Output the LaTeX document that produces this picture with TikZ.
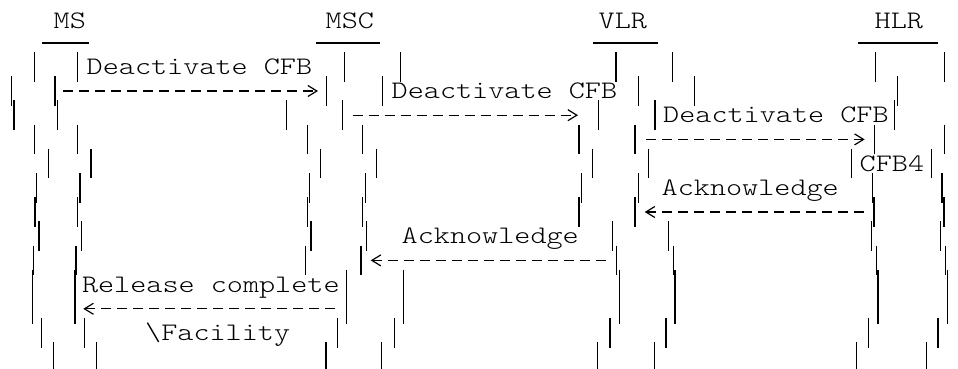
\documentclass[tikz,border=0pt]{standalone}
\usepackage{fontspec}
\newfontfamily\asciifont[FakeStretch=1.217]{lmmonolt10-regular.otf}
\usetikzlibrary{
  arrows.meta
}
\tikzset{
%
  % For the strokes of the lifelines.
  bar/.style={
    line width=1.5pt},
%
  % For the lids on top of the lifelines.
  lid/.style={
    line width=1.5pt},
%
  % For all texts.
  ascii/.style={
    font=\asciifont\fontsize{25.2}{25.2}\selectfont,
    inner sep=0pt,
    anchor=base west},
%
  % For a message from left to right.
  msg/.style={
    line width=1.2pt,
    dash pattern=on 9.5pt off 6.5pt,
    -{Straight Barb[length=9pt,width=11pt,line width=1.2pt]}},
%
  % For a message from right to left.
  back msg/.style={
    line width=1.2pt,
    dash pattern=on 9.5pt off 6.5pt,
    {Straight Barb[length=9pt,width=11pt,line width=1.2pt]}-}
}

\begin{document}
\begin{tikzpicture}[x=1pt,y=-1pt]
  \useasboundingbox (0,0) rectangle (958,369);

  \node[ascii] (MS) at (53.5,28.5) {MS};
  \node[ascii] (MSC) at (325.5,28.5) {MSC};
  \node[ascii] (VLR) at (598.5,28.5) {VLR};
  \node[ascii] (HLR) at (874.5,28.5) {HLR};

  \draw[lid] (42,43) -- (89,43);
  \draw[lid] (316,43) -- (380,43);
  \draw[lid] (593,43) -- (658,43);
  \draw[lid] (858,43) -- (938,43);

  \begin{scope}
    \clip (0,0) rectangle (958,369);
    \foreach \xs in {
        {34.3,11.7,14,34.3,48.3,36.7,35,39,33.3,32.3,32.3,41.7,53.3},
        {77.7,55,57.3,77.3,91,80,77.7,81.7,76,75,75,84.3,96.7},
        {344.3,326.7,286.7,307.3,320.7,309.3,307.3,311,305.7,346.7,346.7,337.7,326},
        {400.7,382.7,342.3,362.7,376.7,365.7,362.7,366.7,361,403.3,403.3,394.3,381.7},
        {616,638.3,598.3,579,592.3,581.7,579,612.3,616.7,619.3,619.3,610,597.7},
        {672.3,694.3,655,635,648.3,638.3,635,668.3,673.3,675,675,666,654.3},
        {875.3,897.3,894.7,874.7,851.3,872.3,874,871.3,876.3,878,878,868.7,856.3},
        {944.7,967.3,964.7,944.7,931.3,942,944,940.7,945.3,947.3,947.3,938,926.3}}
      \foreach \x [count=\r] in \xs
        \draw[bar] (\x,{52+24.2*(\r-1)}) -- ++(0,29.5);
  \end{scope}

  \node[ascii] (D1) at (86.5,74.5) {Deactivate CFB};
  \node[ascii] (D2) at (391.5,98.7) {Deactivate CFB};
  \node[ascii] (D3) at (663,122.9) {Deactivate CFB};
  \node[ascii] (C4) at (859.5,171.3) {CFB4};
  \node[ascii] (A1) at (661.5,195.5) {Acknowledge};
  \node[ascii] (A2) at (401.5,243.9) {Acknowledge};
  \node[ascii] (R) at (81.8,292.3) {Release complete};
  \node[ascii] (F) at (145,340.7) {\textbackslash Facility};

  \coordinate (ms out) at (63,91);
  \coordinate (msc in) at (318,91);
  \coordinate (msc out) at (353,115.2);
  \coordinate (vlr in) at (578,115.2);
  \coordinate (vlr out) at (646,139.4);
  \coordinate (hlr in) at (864.7,139.4);
  \coordinate (hlr back) at (864.7,212);
  \coordinate (vlr ack) at (644.7,212);
  \coordinate (vlr back) at (608,260.4);
  \coordinate (msc ack) at (370.7,260.4);
  \coordinate (msc back) at (336.7,308.8);
  \coordinate (ms ack) at (83.3,308.8);

  \draw[msg] (ms out) -- (msc in);
  \draw[msg] (msc out) -- (vlr in);
  \draw[msg] (vlr out) -- (hlr in);
  \draw[back msg] (vlr ack) -- (hlr back);
  \draw[back msg] (msc ack) -- (vlr back);
  \draw[back msg] (ms ack) -- (msc back);
\end{tikzpicture}
\end{document}
